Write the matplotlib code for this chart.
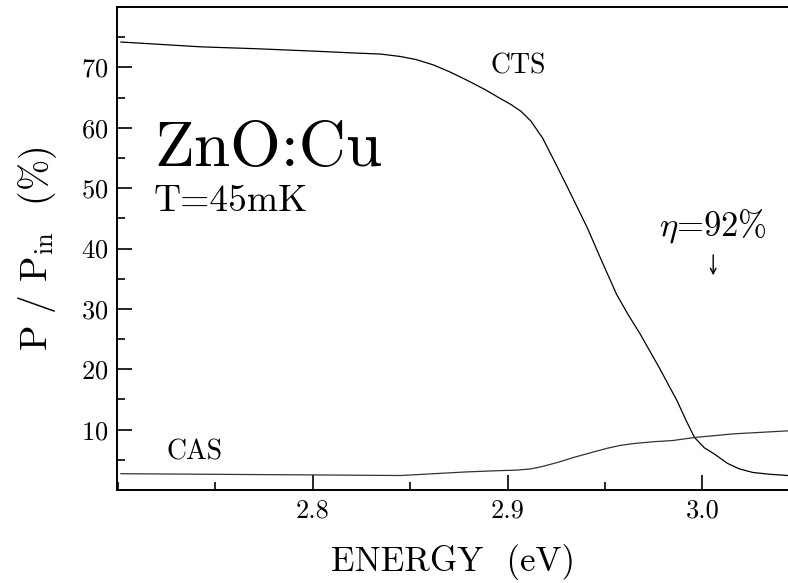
import matplotlib
matplotlib.use('Agg')
import matplotlib.pyplot as plt
from matplotlib.ticker import MultipleLocator

plt.rcParams['font.family'] = ['cmr10', 'DejaVu Serif']
plt.rcParams['mathtext.fontset'] = 'cm'
plt.rcParams['axes.formatter.use_mathtext'] = True

# CTS curve
cts_e = [2.7015, 2.7426, 2.77, 2.80, 2.82, 2.835, 2.845, 2.853, 2.862, 2.870,
         2.879, 2.888, 2.896, 2.902, 2.907, 2.912, 2.918, 2.924, 2.931, 2.941,
         2.948, 2.956, 2.962, 2.968, 2.978, 2.987, 2.992, 2.996, 3.001, 3.006,
         3.013, 3.019, 3.026, 3.035, 3.044]
cts_p = [74.2, 73.4, 73.1, 72.7, 72.4, 72.2, 71.8, 71.3, 70.4, 69.3,
         67.9, 66.4, 64.9, 63.8, 62.7, 61.1, 58.3, 54.5, 50.0, 43.4,
         38.2, 32.4, 29.0, 25.9, 20.2, 14.8, 11.3, 8.7, 7.0, 6.0,
         4.4, 3.5, 2.9, 2.6, 2.4]

# CAS curve
cas_e = [2.7015, 2.75, 2.80, 2.845, 2.862, 2.879, 2.895, 2.905, 2.912, 2.918,
         2.926, 2.934, 2.943, 2.951, 2.958, 2.965, 2.975, 2.985, 2.996, 3.016,
         3.044]
cas_p = [2.7, 2.6, 2.5, 2.4, 2.7, 3.0, 3.2, 3.3, 3.5, 3.9,
         4.6, 5.4, 6.2, 6.9, 7.4, 7.7, 8.0, 8.2, 8.7, 9.3,
         9.8]

xticks = [2.8, 2.9, 3.0]
xlabels = ['2.8', '2.9', '3.0']
yticks = [10, 20, 30, 40, 50, 60, 70]

fig = plt.figure(figsize=(7.88, 5.83), dpi=100)
ax = fig.add_axes([0.1485, 0.1595, 0.8515, 0.8285])

ax.plot(cts_e, cts_p, color='black', lw=0.9)
ax.plot(cas_e, cas_p, color='#333333', lw=0.9)

ax.set_xlim(2.6995, 3.044)
ax.set_ylim(0, 80)
ax.set_xticks(xticks)
ax.set_xticklabels(xlabels)
ax.set_yticks(yticks)
ax.xaxis.set_minor_locator(MultipleLocator(0.05))
ax.yaxis.set_minor_locator(MultipleLocator(5))
ax.tick_params(which='both', direction='in', labelsize=19, width=1.2,
               top=False, right=False)
ax.tick_params(which='major', length=11, pad=6)
ax.tick_params(which='minor', length=5.5)
ax.spines['right'].set_visible(False)
for s in ['left', 'top', 'bottom']:
    ax.spines[s].set_linewidth(1.4)

ax.set_xlabel('ENERGY  (eV)', fontsize=25, labelpad=16)
ax.set_ylabel(r'P / P$_{\rm in}$  (%)', fontsize=27, labelpad=16)

ax.text(2.7185, 53.6, 'ZnO:Cu', fontsize=47)
ax.text(2.7185, 46.2, 'T=45mK', fontsize=27)
ax.text(2.725, 5.0, 'CAS', fontsize=20)
ax.text(2.891, 69.0, 'CTS', fontsize=20)
ax.text(2.978, 42.1, r'$\eta$=92%', fontsize=25)
ax.annotate('', xy=(3.0056, 35.1), xytext=(3.0056, 39.4),
            arrowprops=dict(arrowstyle='->', lw=1.0, color='black'))

fig.savefig('out.png', dpi=100)
